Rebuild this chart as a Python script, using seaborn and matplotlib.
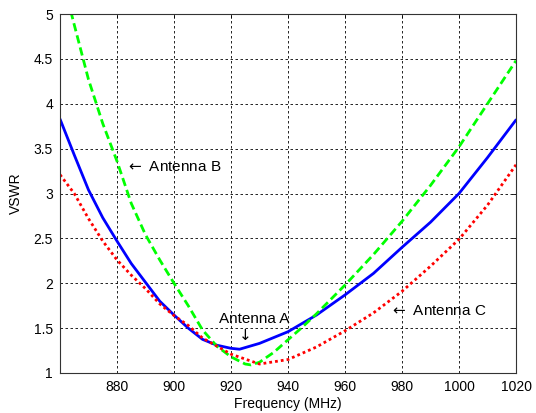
import matplotlib
matplotlib.use("Agg")
import matplotlib.pyplot as plt
import seaborn as sns

# Antenna A (blue, solid)
freq_a = [860, 865, 870, 875, 880, 885, 890, 895, 900, 905, 910, 915, 920, 923, 930, 940, 950, 960, 970, 980, 990, 1000, 1010, 1020]
vswr_a = [3.83, 3.43, 3.04, 2.73, 2.47, 2.22, 2.01, 1.80, 1.646, 1.50, 1.375, 1.31, 1.275, 1.265, 1.33, 1.46, 1.646, 1.87, 2.11, 2.40, 2.68, 3.00, 3.40, 3.82]

# Antenna B (green, dashed)
freq_b = [860, 865, 870, 875, 880, 885, 890, 895, 900, 905, 910, 915, 920, 925, 927, 930, 935, 940, 945, 950, 960, 970, 980, 990, 1000, 1010, 1020]
vswr_b = [5.50, 4.88, 4.27, 3.78, 3.36, 2.89, 2.54, 2.26, 2.00, 1.75, 1.48, 1.30, 1.18, 1.10, 1.09, 1.12, 1.23, 1.37, 1.51, 1.66, 1.98, 2.32, 2.69, 3.09, 3.52, 4.00, 4.48]

# Antenna C (red, dotted)
freq_c = [860, 865, 870, 875, 880, 885, 890, 895, 900, 905, 910, 920, 930, 940, 950, 960, 970, 980, 990, 1000, 1010, 1020]
vswr_c = [3.21, 3.00, 2.72, 2.47, 2.26, 2.09, 1.94, 1.77, 1.64, 1.53, 1.39, 1.21, 1.10, 1.15, 1.29, 1.47, 1.67, 1.91, 2.19, 2.49, 2.87, 3.32]

x_ticks = [880, 900, 920, 940, 960, 980, 1000, 1020]
y_ticks = [1, 1.5, 2, 2.5, 3, 3.5, 4, 4.5, 5]
y_ticklabels = ["1", "1.5", "2", "2.5", "3", "3.5", "4", "4.5", "5"]

sns.set_style("white")
plt.rcParams['font.family'] = ['Liberation Sans', 'DejaVu Sans']
plt.rcParams['text.color'] = 'black'
plt.rcParams['axes.labelcolor'] = 'black'

fig = plt.figure(figsize=(5.36, 4.13), dpi=100)
ax = fig.add_axes([60/536, 40/413, 456/536, 359/413])

sns.lineplot(x=freq_a, y=vswr_a, ax=ax, color='#0000FF', lw=2.0, sort=False)
sns.lineplot(x=freq_b, y=vswr_b, ax=ax, color='#00FF00', lw=2.0, sort=False,
             linestyle=(0, (3, 1.5)))
sns.lineplot(x=freq_c, y=vswr_c, ax=ax, color='#FF0000', lw=2.0, sort=False,
             linestyle=(0, (1, 1.1)))

ax.set_xlim(860, 1020)
ax.set_ylim(1, 5)
ax.set_xticks(x_ticks)
ax.set_xticklabels([str(t) for t in x_ticks])
ax.set_yticks(y_ticks)
ax.set_yticklabels(y_ticklabels)
ax.tick_params(direction='in', length=3, width=0.6, labelsize=10, colors='black', pad=5,
               top=True, right=True)
ax.grid(True, color='black', linestyle=(0, (3, 3)), linewidth=0.6)
for s in ax.spines.values():
    s.set_color('#333333')
    s.set_linewidth(0.8)
    s.set_visible(True)

ax.set_xlabel("Frequency (MHz)", fontsize=10, labelpad=2)
ax.set_ylabel("VSWR", fontsize=10, labelpad=8)

ax.text(883.2, 3.30, r"$\leftarrow$ Antenna B", fontsize=11, va='center', ha='left')
ax.text(928.2, 1.60, "Antenna A", fontsize=11, va='center', ha='center')
ax.text(924.3, 1.42, r"$\downarrow$", fontsize=11, va='center', ha='center')
ax.text(975.8, 1.69, r"$\leftarrow$ Antenna C", fontsize=11, va='center', ha='left')

fig.savefig("out.png", dpi=100)
